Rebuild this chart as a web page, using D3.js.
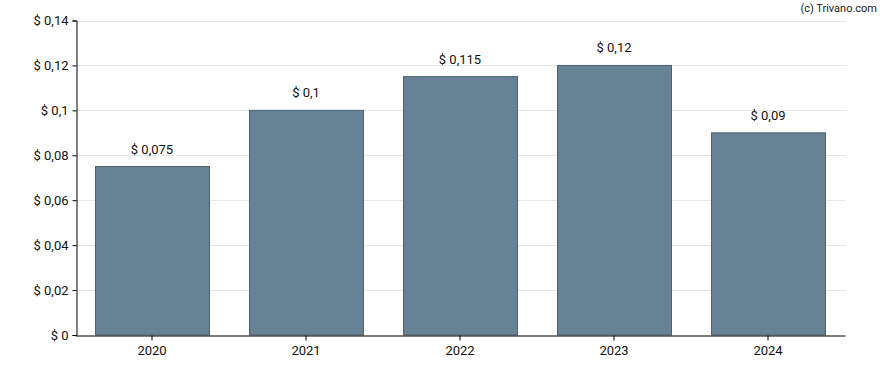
<!DOCTYPE html>
<html><head><meta charset="utf-8">
<script src="https://cdn.jsdelivr.net/npm/d3@7"></script>
<style>body{margin:0;background:#fff}svg{display:block}text{font-family:Roboto,sans-serif}</style>
</head><body><svg id="c" width="888" height="370"></svg>
<script>
const years = ["2020","2021","2022","2023","2024"];
const values = [0.075,0.1,0.115,0.12,0.09];
const labels = ["$ 0,075","$ 0,1","$ 0,115","$ 0,12","$ 0,09"];
const yTicks = [0,0.02,0.04,0.06,0.08,0.1,0.12,0.14];
const yTickLabels = ["$ 0","$ 0,02","$ 0,04","$ 0,06","$ 0,08","$ 0,1","$ 0,12","$ 0,14"];

const svg = d3.select("#c");
const x = d3.scaleBand().domain(years).range([76,846]).paddingInner(0.26).paddingOuter(0.13);
const y = d3.scaleLinear().domain([0,0.14]).range([335,20.5]);

svg.append("g").selectAll("line").data(yTicks.slice(1)).join("line")
  .attr("x1",76).attr("x2",846).attr("y1",d=>Math.round(y(d))+0.5).attr("y2",d=>Math.round(y(d))+0.5)
  .attr("stroke","#e6e6e6").attr("stroke-width",1);

svg.append("g").selectAll("rect").data(values).join("rect")
  .attr("x",(d,i)=>Math.round(x(years[i]))-0.5).attr("width",Math.round(x.bandwidth()))
  .attr("y",d=>y(d)).attr("height",d=>y(0)-y(d))
  .attr("fill","#668294").attr("stroke","#4a6274").attr("stroke-width",1);

svg.append("g").selectAll("text").data(values).join("text")
  .attr("x",(d,i)=>x(years[i])+x.bandwidth()/2-1).attr("y",d=>y(d)-13)
  .attr("text-anchor","middle").attr("font-size",13).attr("fill","#111")
  .text((d,i)=>labels[i]);

const ya = d3.axisLeft(y).tickValues(yTicks).tickSize(4).tickPadding(4).tickFormat((d,i)=>yTickLabels[i]);
const gy = svg.append("g").attr("transform","translate(76.5,0)").call(ya);
gy.select(".domain").attr("stroke","#000");
gy.selectAll("text").attr("font-size",13).attr("fill","#111").attr("font-family","Roboto,sans-serif");

const xa = d3.axisBottom(x).tickSize(5).tickPadding(5).tickSizeOuter(0);
const gx = svg.append("g").attr("transform","translate(-1,335.5)").call(xa);
gx.select(".domain").attr("stroke","#000");
gx.selectAll("text").attr("font-size",13).attr("fill","#111").attr("font-family","Roboto,sans-serif");

svg.append("text").attr("x",877).attr("y",12).attr("text-anchor","end")
  .attr("font-size",11).attr("fill","#222").text("(c) Trivano.com");
</script></body></html>
